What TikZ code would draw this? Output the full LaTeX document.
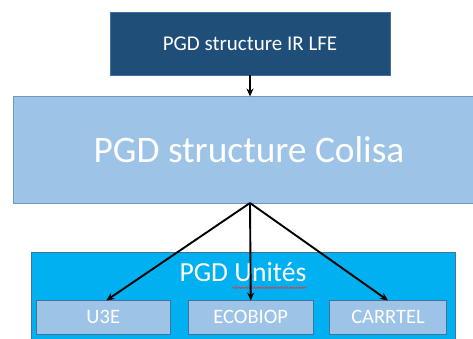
\documentclass[tikz,border=0pt]{standalone}
\usepackage{fontspec}
\setmainfont{Carlito}
\usetikzlibrary{arrows.meta,calc,decorations.pathmorphing}
\definecolor{topfill}{HTML}{1F4E79}
\definecolor{topline}{HTML}{41719C}
\definecolor{lightfill}{HTML}{9DC3E6}
\definecolor{lightline}{HTML}{6F98C4}
\definecolor{unitfill}{HTML}{00B0F0}
\definecolor{subline}{HTML}{41719C}
\definecolor{spell}{HTML}{E03C3C}
\tikzset{
  box/.style={rectangle, inner sep=0pt, outer sep=0pt, text=white, line width=0.8pt},
  topbox/.style={box, fill=topfill, draw=topline, minimum width=280pt, minimum height=63pt, font=\fontsize{21}{24}\selectfont},
  colisabox/.style={box, fill=lightfill, draw=lightline, minimum width=472pt, minimum height=106.5pt, font=\fontsize{37.4}{42}\selectfont},
  unitbox/.style={box, fill=unitfill, draw=subline, minimum width=424pt, minimum height=95pt},
  subbox/.style={box, fill=lightfill, draw=subline, minimum height=33.5pt, font=\fontsize{20.5}{24}\selectfont},
  lbl/.style={inner sep=0pt, outer sep=0pt, text=white},
  arr/.style={-{Stealth[length=8pt,width=7pt]}, line width=1.9pt, black},
}
\begin{document}
\begin{tikzpicture}[x=1pt,y=-1pt]
\useasboundingbox (0,0) rectangle (473,339);
\clip (0,0) rectangle (473,339);
\node[topbox] (top) at (250,43.5) {PGD structure IR LFE};
\node[colisabox] (colisa) at (249,149.75) {PGD structure Colisa};
\node[unitbox] (unites) at (243,299.5) {};
\node[lbl, anchor=base, font=\fontsize{27.6}{32}\selectfont] (ulabel) at (243,281.7) {PGD Unités};
\node[subbox, minimum width=133.5pt] (u3e) at (103.25,317.25) {U3E};
\node[subbox, minimum width=125.5pt] (eco) at (250.75,317.25) {ECOBIOP};
\node[subbox, minimum width=117pt] (car) at (388,317.25) {CARRTEL};
\draw[spell, line width=0.7pt, decorate, decoration={snake, amplitude=0.8pt, segment length=3pt}]
  ($(ulabel.base east)+(-74,6)$) -- ($(ulabel.base east)+(0,6)$);
\coordinate (fan) at (250,203);
\draw[arr] (top.south) -- (top.south |- colisa.north);
\draw[arr] (fan) -- ($(u3e.north)+(3,0)$);
\draw[arr] (fan) -- (eco.north);
\draw[arr] (fan) -- (car.north);
\end{tikzpicture}
\end{document}
